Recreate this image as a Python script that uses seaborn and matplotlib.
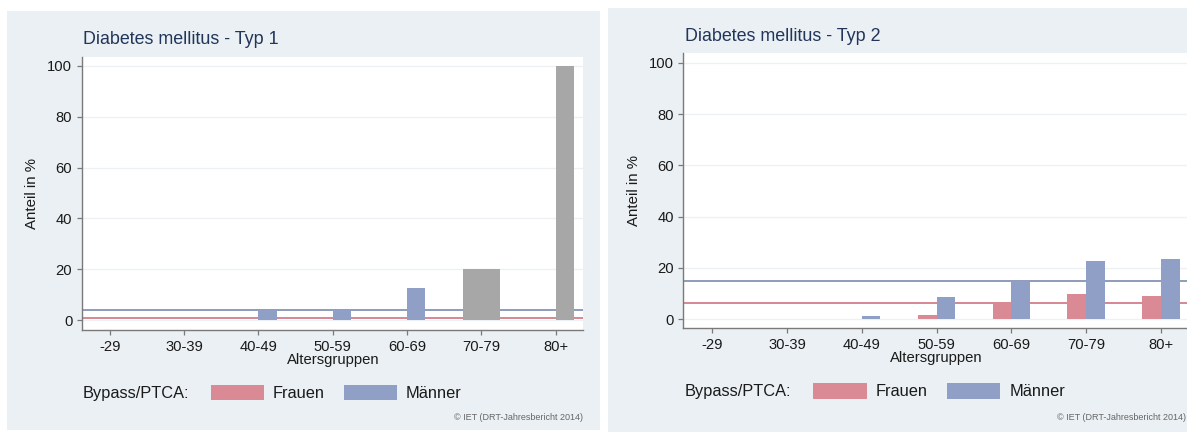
import matplotlib
matplotlib.use("Agg")
import matplotlib.pyplot as plt
from matplotlib.patches import Rectangle
import pandas as pd
import seaborn as sns

# Daten
altersgruppen = ["-29", "30-39", "40-49", "50-59", "60-69", "70-79", "80+"]
geschlechter = ["Frauen", "Männer"]

typ1_frauen = [0, 0, 0, 0, 0, 20, 0]
typ1_maenner = [0, 0, 4, 4, 12.5, 20, 100]
# graue Balken (geringe Fallzahl)
typ1_grau_frauen = [False, False, False, False, False, True, False]
typ1_grau_maenner = [False, False, False, False, False, True, True]
typ1_referenz = [1.0, 4.0]  # Frauen, Männer

typ2_frauen = [0, 0, 0, 1.5, 6.5, 9.8, 9.1]
typ2_maenner = [0, 0, 1.0, 8.7, 15.0, 22.8, 23.5]
typ2_grau_frauen = [False] * 7
typ2_grau_maenner = [False] * 7
typ2_referenz = [6.4, 15.0]

titel = ["Diabetes mellitus - Typ 1", "Diabetes mellitus - Typ 2"]
y_ticks = [0, 20, 40, 60, 80, 100]

FARBE_F = "#d98a94"
FARBE_M = "#909fc5"
LINIE_F = "#cf7380"
LINIE_M = "#7c8aaf"
GRAU = "#a7a7a7"
HINTERGRUND = "#eaf0f3"
TITELFARBE = "#22355a"

sns.set_style("white")
plt.rcParams["font.family"] = ["Liberation Sans", "DejaVu Sans"]

W, H = 1187, 432
fig = plt.figure(figsize=(W / 100, H / 100), dpi=100)


def px_box(x0, y0, x1, y1):
    return [x0 / W, 1 - y1 / H, (x1 - x0) / W, (y1 - y0) / H]


def ftext(x, y, s, **kw):
    fig.text(x / W, 1 - y / H, s, **kw)


def rechteck(x0, y0, x1, y1, farbe, z):
    fig.patches.append(Rectangle((x0 / W, 1 - y1 / H), (x1 - x0) / W, (y1 - y0) / H,
                                 transform=fig.transFigure, facecolor=farbe,
                                 edgecolor="none", zorder=z))


layout = [
    dict(bg=(7, 11, 600, 430), ax=(81.5, 57, 583, 330), ylim=(-3.9, 103.5), xlim=(-0.38, 6.37),
         titel=(83, 44), ylab=(32.5, 193), xlab=(333, 364), leg_y=(385, 400, 398),
         leg_x=(83, 210.5, 264, 272.5, 344, 397, 406), copy=(583, 418)),
    dict(bg=(608, 8, 1240, 432), ax=(683, 53, 1190, 328), ylim=(-3.5, 103.9), xlim=(-0.39, 6.39),
         titel=(685, 41), ylab=(634, 190), xlab=(936, 362), leg_y=(383, 399, 396),
         leg_x=(685, 813, 867, 876, 947, 1000, 1010), copy=(1186, 417)),
]

daten = [
    (typ1_frauen, typ1_maenner, typ1_grau_frauen, typ1_grau_maenner, typ1_referenz),
    (typ2_frauen, typ2_maenner, typ2_grau_frauen, typ2_grau_maenner, typ2_referenz),
]

for i, (lay, (frauen, maenner, grau_f, grau_m, referenz)) in enumerate(zip(layout, daten)):
    # Panel-Hintergrund
    rechteck(*lay["bg"], HINTERGRUND, -1)

    ax = fig.add_axes(px_box(*lay["ax"]))
    ax.set_zorder(1)
    ax.set_facecolor("white")

    df = pd.DataFrame({
        "Altersgruppe": altersgruppen * 2,
        "Anteil": list(frauen) + list(maenner),
        "Geschlecht": ["Frauen"] * len(frauen) + ["Männer"] * len(maenner),
    })
    sns.barplot(data=df, x="Altersgruppe", y="Anteil", hue="Geschlecht",
                order=altersgruppen, hue_order=geschlechter,
                palette={"Frauen": FARBE_F, "Männer": FARBE_M},
                width=0.5, saturation=1, errorbar=None, linewidth=0,
                legend=False, ax=ax)

    # graue Balken einfärben
    for container, grau in zip(ax.containers, [grau_f, grau_m]):
        for bar, g in zip(container, grau):
            if g:
                bar.set_facecolor(GRAU)
            bar.set_zorder(3)

    # Referenzlinien (Gesamtanteil)
    ax.axhline(referenz[0], color=LINIE_F, lw=1.2, zorder=2)
    ax.axhline(referenz[1], color=LINIE_M, lw=1.2, zorder=2)

    ax.set_xlim(*lay["xlim"])
    ax.set_ylim(*lay["ylim"])
    ax.set_yticks(y_ticks)
    ax.yaxis.grid(True, color="#edf1f4", lw=1)
    ax.set_axisbelow(True)
    ax.set_xlabel("")
    ax.set_ylabel("")
    for s in ["top", "right"]:
        ax.spines[s].set_visible(False)
    for s in ["left", "bottom"]:
        ax.spines[s].set_color("#7a7a7a")
        ax.spines[s].set_linewidth(1)
    ax.tick_params(axis="both", length=3.6, width=0.9, color="#7a7a7a",
                   labelsize=10.6, labelcolor="#1a1a1a", bottom=True, left=True)
    ax.tick_params(axis="x", pad=3.5)
    ax.tick_params(axis="y", pad=3.0)

    # Texte
    ftext(*lay["titel"], titel[i], fontsize=12.9, color=TITELFARBE, ha="left", va="baseline")
    ftext(*lay["ylab"], "Anteil in %", fontsize=10.8, rotation=90, ha="center", va="center",
          color="#1a1a1a")
    ftext(*lay["xlab"], "Altersgruppen", fontsize=10.7, ha="center", va="baseline", color="#1a1a1a")

    ly0, ly1, lbase = lay["leg_y"]
    lx = lay["leg_x"]
    ftext(lx[0], lbase, "Bypass/PTCA:", fontsize=11.8, ha="left", va="baseline", color="#1a1a1a")
    rechteck(lx[1], ly0, lx[2], ly1, FARBE_F, 2)
    ftext(lx[3], lbase, "Frauen", fontsize=11.8, ha="left", va="baseline", color="#1a1a1a")
    rechteck(lx[4], ly0, lx[5], ly1, FARBE_M, 2)
    ftext(lx[6], lbase, "Männer", fontsize=11.8, ha="left", va="baseline", color="#1a1a1a")

    ftext(*lay["copy"], "© IET (DRT-Jahresbericht 2014)", fontsize=6.5, ha="right", va="center",
          color="#666666")

fig.savefig("out.png", dpi=100, facecolor="white")
plt.close(fig)
